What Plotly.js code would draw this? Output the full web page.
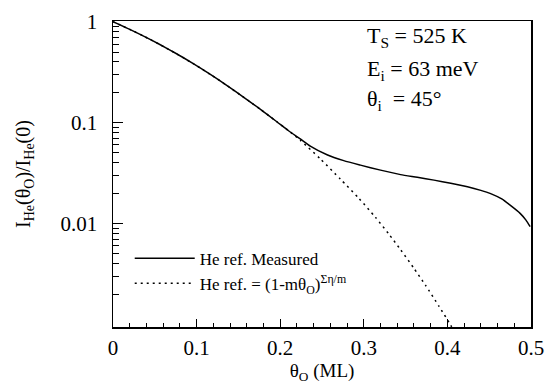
<!DOCTYPE html>
<html>
<head>
<meta charset="utf-8">
<script src="https://cdn.plot.ly/plotly-3.0.1.min.js"></script>
<style>html,body{margin:0;padding:0;background:#fff;}#chart{width:548px;height:387px;}</style>
</head>
<body>
<div id="chart"></div>
<script>
// Measured He reflectivity curve
const thetaMeasured = [0, 0.02, 0.036, 0.056, 0.076, 0.096, 0.116, 0.136, 0.156, 0.176, 0.196, 0.21, 0.224, 0.236, 0.256, 0.276, 0.296, 0.32, 0.344, 0.364, 0.384, 0.404, 0.424, 0.44, 0.451, 0.465, 0.475, 0.487, 0.494, 0.499];
const heMeasured = [1.0, 0.839, 0.724, 0.594, 0.481, 0.384, 0.302, 0.234, 0.179, 0.136, 0.102, 0.083, 0.069, 0.0585, 0.0480, 0.0420, 0.0379, 0.0338, 0.0305, 0.0287, 0.0269, 0.0250, 0.0231, 0.0213, 0.0199, 0.0175, 0.0152, 0.0126, 0.0108, 0.0093];

// Calculated curve (1-m theta)^(sum eta / m)
const thetaCalc = [0, 0.02, 0.036, 0.056, 0.076, 0.096, 0.116, 0.136, 0.156, 0.176, 0.196, 0.21, 0.224, 0.248, 0.272, 0.294, 0.314, 0.33, 0.344, 0.36, 0.374, 0.39, 0.404, 0.41];
const heCalc = [1.0, 0.839, 0.724, 0.594, 0.481, 0.384, 0.302, 0.234, 0.179, 0.136, 0.102, 0.083, 0.0668, 0.0437, 0.0275, 0.0178, 0.0115, 0.00785, 0.0055, 0.00359, 0.00243, 0.00151, 0.00098, 0.00079];

const xTickVals = [0, 0.1, 0.2, 0.3, 0.4, 0.5];
const yTickVals = [0.01, 0.1, 1];
const yTickText = ['0.01', '0.1', '1'];
const seriesNames = ['He ref. Measured', 'He ref. = (1-mθ<sub>O</sub>)<sup>Ση/m</sup>'];

const yMinorVals = [];
[0.001, 0.01, 0.1].forEach(d => { for (let k = 2; k <= 9; k++) yMinorVals.push(+(k * d).toPrecision(3)); });

const serif = 'Liberation Serif, Times New Roman, serif';

const traces = [
  {x: thetaMeasured, y: heMeasured, type: 'scatter', mode: 'lines', name: seriesNames[0],
   line: {color: 'black', width: 1.5, shape: 'spline', smoothing: 0.6}},
  {x: thetaCalc, y: heCalc, type: 'scatter', mode: 'lines', name: seriesNames[1],
   line: {color: 'black', width: 1.5, dash: '2px,4px', shape: 'spline', smoothing: 0.6}}
];

const layout = {
  width: 548, height: 387,
  margin: {l: 113, r: 17, t: 21, b: 60},
  paper_bgcolor: 'white', plot_bgcolor: 'white',
  font: {family: serif, size: 21, color: 'black'},
  showlegend: true,
  legend: {x: 0.04, y: 0.282, xanchor: 'left', yanchor: 'top', bgcolor: 'rgba(0,0,0,0)', itemwidth: 60,
           font: {family: serif, size: 17, color: 'black'}, tracegroupgap: 0},
  xaxis: {range: [0, 0.5], tickmode: 'array', tickvals: xTickVals,
          ticks: 'inside', ticklen: 8, tickwidth: 1.2, tickcolor: 'black',
          showline: true, linewidth: 1.5, linecolor: 'black', mirror: true,
          showgrid: false, zeroline: false, ticklabelstandoff: 1,
          tickfont: {family: serif, size: 21},
          minor: {dtick: 0.02, tick0: 0, ticks: 'inside', ticklen: 4, tickwidth: 1, tickcolor: 'black', showgrid: false},
          title: {text: 'θ<sub>O</sub> (ML)', font: {family: serif, size: 19}, standoff: 2}},
  yaxis: {type: 'log', range: [-3.026, 0.007], tickmode: 'array', tickvals: yTickVals, ticktext: yTickText,
          ticks: 'inside', ticklen: 10, tickwidth: 1.2, tickcolor: 'black',
          showline: true, linewidth: 1.5, linecolor: 'black', mirror: true,
          showgrid: false, zeroline: false, ticklabelstandoff: 10,
          tickfont: {family: serif, size: 21},
          minor: {tickmode: 'array', tickvals: yMinorVals, ticks: 'inside', ticklen: 6, tickwidth: 1, tickcolor: 'black', showgrid: false},
          title: {text: 'I<sub>He</sub>(θ<sub>O</sub>)/I<sub>He</sub>(0)', font: {family: serif, size: 20}, standoff: 24}},
  annotations: [
    {xref: 'paper', yref: 'paper', x: 0.603, y: 0.948, xanchor: 'left', yanchor: 'middle', showarrow: false,
     text: 'T<sub>S</sub> = 525 K', font: {family: serif, size: 22}},
    {xref: 'paper', yref: 'paper', x: 0.603, y: 0.84, xanchor: 'left', yanchor: 'middle', showarrow: false,
     text: 'E<sub>i</sub> = 63 meV', font: {family: serif, size: 22}},
    {xref: 'paper', yref: 'paper', x: 0.603, y: 0.742, xanchor: 'left', yanchor: 'middle', showarrow: false,
     text: 'θ<sub>i</sub>  = 45°', font: {family: serif, size: 22}}
  ]
};

Plotly.newPlot('chart', traces, layout, {displayModeBar: false, staticPlot: true});
</script>
</body>
</html>
